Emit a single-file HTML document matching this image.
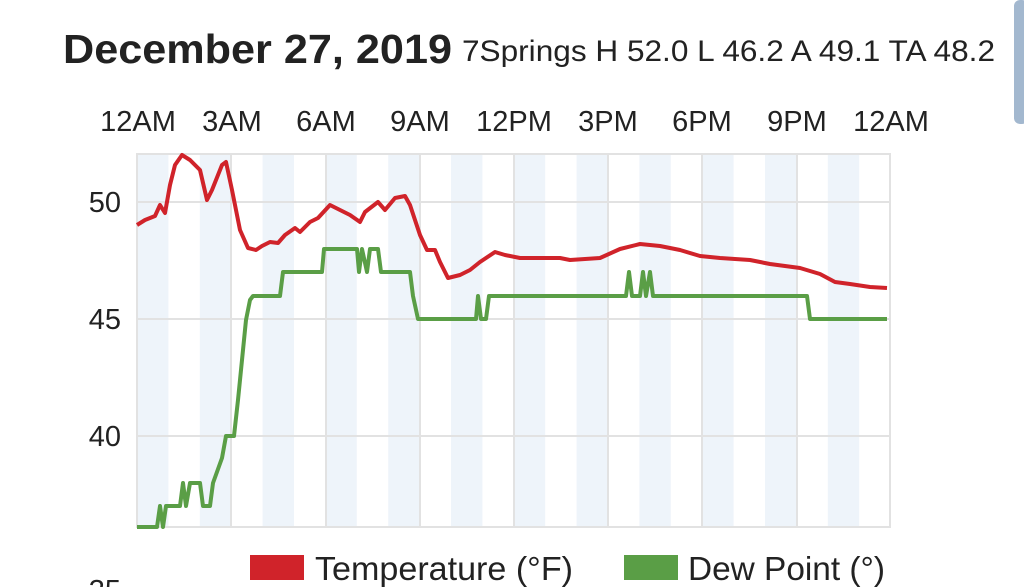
<!DOCTYPE html>
<html><head><meta charset="utf-8"><style>
html,body{margin:0;padding:0;background:#fff;width:1024px;height:587px;overflow:hidden}
</style></head><body>
<svg width="1024" height="587" viewBox="0 0 1024 587" xmlns="http://www.w3.org/2000/svg" style="font-family:'Liberation Sans',sans-serif">
<rect x="1014" y="0" width="14" height="124" rx="6" fill="#a3b8cf"/>
<text x="63" y="63" font-size="41" font-weight="bold" fill="#222" textLength="389" lengthAdjust="spacingAndGlyphs">December 27, 2019</text>
<text x="462" y="61" font-size="30" fill="#222" textLength="533" lengthAdjust="spacingAndGlyphs">7Springs H 52.0 L 46.2 A 49.1 TA 48.2</text>
<g font-size="29" fill="#222" text-anchor="middle">
<text x="138" y="131">12AM</text><text x="232" y="131">3AM</text><text x="326" y="131">6AM</text>
<text x="420" y="131">9AM</text><text x="514" y="131">12PM</text><text x="608" y="131">3PM</text>
<text x="702" y="131">6PM</text><text x="797" y="131">9PM</text><text x="891" y="131">12AM</text>
</g>
<g fill="#eef4fa">
<rect x="137" y="154" width="31.4" height="373"/><rect x="199.8" y="154" width="31.4" height="373"/>
<rect x="262.6" y="154" width="31.4" height="373"/><rect x="325.4" y="154" width="31.4" height="373"/>
<rect x="388.2" y="154" width="31.4" height="373"/><rect x="451" y="154" width="31.4" height="373"/>
<rect x="513.8" y="154" width="31.4" height="373"/><rect x="576.6" y="154" width="31.4" height="373"/>
<rect x="639.4" y="154" width="31.4" height="373"/><rect x="702.2" y="154" width="31.4" height="373"/>
<rect x="765" y="154" width="31.4" height="373"/><rect x="827.8" y="154" width="31.4" height="373"/>
</g>
<g stroke="#e2e2e2" stroke-width="2" fill="none">
<rect x="137" y="154" width="753" height="373"/>
<line x1="137" y1="202" x2="890" y2="202"/><line x1="137" y1="319" x2="890" y2="319"/><line x1="137" y1="436" x2="890" y2="436"/>
<line x1="231" y1="154" x2="231" y2="527"/><line x1="326" y1="154" x2="326" y2="527"/><line x1="420" y1="154" x2="420" y2="527"/>
<line x1="514" y1="154" x2="514" y2="527"/><line x1="608" y1="154" x2="608" y2="527"/><line x1="702" y1="154" x2="702" y2="527"/>
<line x1="797" y1="154" x2="797" y2="527"/>
</g>
<g font-size="29" fill="#222" text-anchor="end">
<text x="121" y="212">50</text><text x="121" y="329">45</text><text x="121" y="446">40</text><text x="121" y="600">35</text>
</g>
<polyline fill="none" stroke="#d0232a" stroke-width="4" stroke-linejoin="round" points="137,225 145,220 155,216 160,205 165,213 170,185 175,165 182,155 190,160 200,170 207,200 212,190 222,165 226,162 232,190 240,230 248,248 256,250 262,246 270,242 278,243 285,235 295,228 300,232 310,222 318,218 330,205 340,210 350,215 360,222 365,212 378,202 385,210 395,198 405,196 410,205 420,235 427,250 435,250 440,262 448,278 460,275 470,270 480,262 495,252 505,255 520,258 560,258 570,260 600,258 620,249 640,244 660,246 680,250 700,256 720,258 750,260 770,264 800,268 820,274 835,282 850,284 870,287 887,288"/>
<polyline fill="none" stroke="#5a9e46" stroke-width="4" stroke-linejoin="round" points="137,527 157,527 160,506 163,527 166,506 180,506 183,483 186,506 190,483 200,483 203,506 210,506 213,483 222,458 226,436 234,436 238,400 242,360 246,320 250,300 253,296 280,296 283,272 322,272 324,249 357,249 359,272 362,249 367,272 370,249 378,249 381,272 410,272 413,296 418,319 476,319 478,296 481,319 486,319 489,296 626,296 629,272 632,296 640,296 643,272 646,296 650,272 653,296 807,296 810,319 887,319"/>
<rect x="250" y="555" width="54" height="25" fill="#d0232a"/>
<text x="315" y="580" font-size="33" fill="#222" textLength="258" lengthAdjust="spacingAndGlyphs">Temperature (°F)</text>
<rect x="624" y="555" width="54" height="25" fill="#5a9e46"/>
<text x="688" y="580" font-size="33" fill="#222" textLength="197" lengthAdjust="spacingAndGlyphs">Dew Point (°)</text>
</svg>
</body></html>
